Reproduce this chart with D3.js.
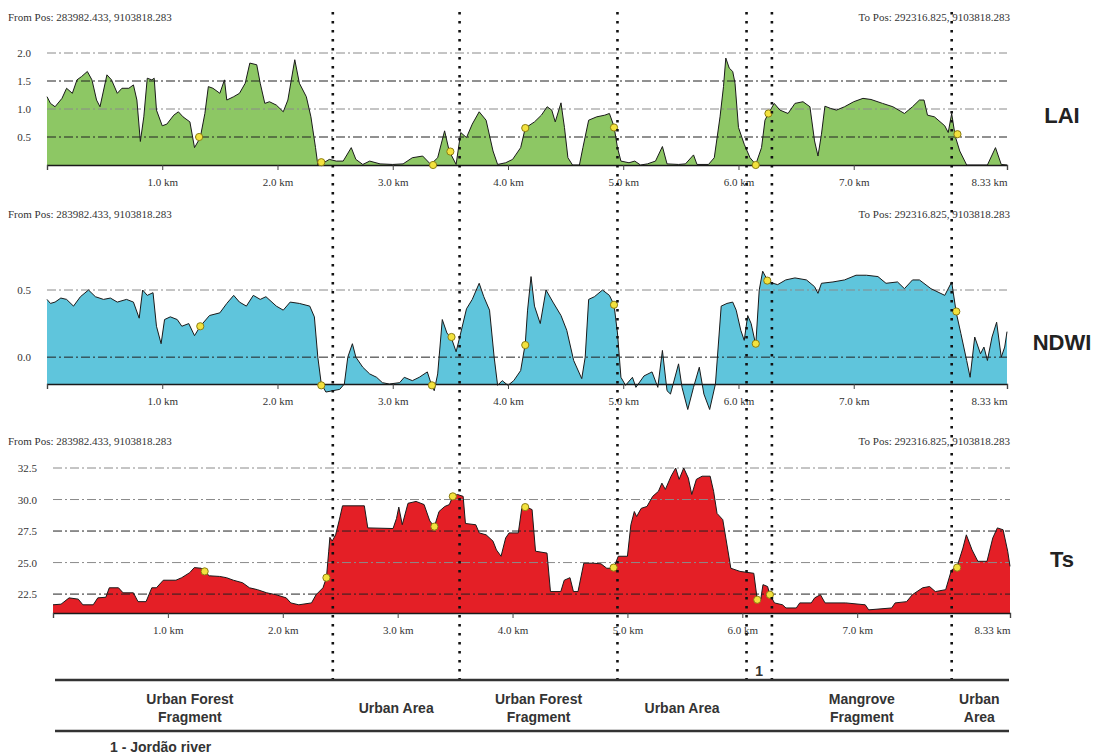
<!DOCTYPE html>
<html>
<head>
<meta charset="utf-8">
<script src="https://cdn.jsdelivr.net/npm/d3@7"></script>
<style>
  body { margin: 0; background: #fff; }
  .pos, .tick text, .ylbl { font-family: "Liberation Serif", "Times New Roman", serif; font-size: 11px; fill: #333; }
  .name { font-family: "Liberation Sans", Arial, sans-serif; font-weight: bold; font-size: 22px; fill: #222; }
  .zone { font-family: "Liberation Sans", Arial, sans-serif; font-weight: bold; font-size: 14px; fill: #333; }
</style>
</head>
<body>
<svg width="1096" height="756"></svg>
<script>
// distance (km), value pairs
const laiProfile = [[0,1.22],[0.03,1.10],[0.07,1.04],[0.13,1.19],[0.17,1.37],[0.22,1.28],[0.26,1.52],[0.30,1.58],[0.35,1.67],[0.39,1.52],[0.43,1.16],[0.46,1.04],[0.52,1.61],[0.56,1.52],[0.61,1.28],[0.65,1.37],[0.71,1.37],[0.75,1.43],[0.78,1.16],[0.81,0.42],[0.84,0.86],[0.87,1.55],[0.91,1.52],[0.93,1.55],[0.95,0.98],[1.0,0.70],[1.04,0.73],[1.10,0.89],[1.14,0.95],[1.18,0.86],[1.24,0.77],[1.28,0.31],[1.33,0.49],[1.37,0.92],[1.40,1.40],[1.44,1.37],[1.50,1.28],[1.54,1.52],[1.56,1.16],[1.62,1.22],[1.67,1.28],[1.72,1.46],[1.76,1.82],[1.82,1.79],[1.85,1.46],[1.89,1.10],[1.93,1.13],[1.99,1.07],[2.05,0.95],[2.09,1.16],[2.15,1.88],[2.19,1.46],[2.25,1.22],[2.29,0.86],[2.33,0.31],[2.35,0],[2.40,0.04],[2.45,0.10],[2.51,0.07],[2.57,0.07],[2.64,0.31],[2.68,0.10],[2.74,0.01],[2.80,0.07],[2.89,0.02],[3.0,0.01],[3.09,0.02],[3.17,0.13],[3.26,0.16],[3.33,0.01],[3.39,0.13],[3.45,0.61],[3.49,0.25],[3.55,0.01],[3.59,0.58],[3.64,0.49],[3.69,0.73],[3.75,0.95],[3.81,0.80],[3.87,0.25],[3.91,0.01],[3.98,0.04],[4.04,0.10],[4.11,0.31],[4.15,0.66],[4.23,0.77],[4.29,0.89],[4.34,1.04],[4.38,0.98],[4.41,0.77],[4.46,1.11],[4.49,0.67],[4.52,0.13],[4.56,0],[4.62,0],[4.65,0.31],[4.70,0.80],[4.77,0.86],[4.84,0.89],[4.88,0.92],[4.92,0.69],[4.95,0.31],[4.98,0.07],[5.05,0.04],[5.10,0.07],[5.15,0],[5.21,0.02],[5.28,0.07],[5.34,0.33],[5.38,0.02],[5.48,0.01],[5.54,0.02],[5.61,0.18],[5.64,0.01],[5.74,0.01],[5.79,0.13],[5.84,0.86],[5.87,1.40],[5.89,1.91],[5.92,1.73],[5.95,1.67],[5.97,1.46],[6.0,0.67],[6.05,0.37],[6.10,0.13],[6.15,0.01],[6.20,0.31],[6.23,0.80],[6.26,0.92],[6.31,1.10],[6.36,0.98],[6.43,0.92],[6.49,1.10],[6.56,1.13],[6.62,1.04],[6.66,0.43],[6.69,0.16],[6.72,0.55],[6.75,1.05],[6.80,1.01],[6.85,0.98],[6.92,1.04],[7.0,1.13],[7.08,1.19],[7.15,1.17],[7.25,1.10],[7.34,1.04],[7.44,0.92],[7.51,1.04],[7.57,1.16],[7.61,1.16],[7.64,0.89],[7.70,0.86],[7.79,0.70],[7.82,0.58],[7.85,0.92],[7.88,0.52],[7.92,0.25],[7.98,0],[8.16,0],[8.23,0.31],[8.28,0.01],[8.33,0]];

const ndwiProfile = [[0,0.43],[0.03,0.40],[0.07,0.41],[0.12,0.44],[0.17,0.43],[0.23,0.38],[0.29,0.45],[0.36,0.50],[0.42,0.45],[0.49,0.43],[0.55,0.44],[0.61,0.41],[0.69,0.43],[0.75,0.41],[0.80,0.29],[0.83,0.50],[0.87,0.46],[0.92,0.48],[0.95,0.23],[0.99,0.10],[1.02,0.28],[1.07,0.30],[1.13,0.28],[1.17,0.23],[1.23,0.25],[1.28,0.16],[1.33,0.23],[1.41,0.31],[1.50,0.33],[1.56,0.40],[1.62,0.46],[1.67,0.41],[1.73,0.38],[1.79,0.46],[1.85,0.43],[1.90,0.45],[1.99,0.38],[2.05,0.35],[2.11,0.41],[2.19,0.40],[2.28,0.38],[2.32,0.30],[2.35,0.0],[2.38,-0.20],[2.42,-0.26],[2.48,-0.25],[2.54,-0.24],[2.58,-0.20],[2.61,0.0],[2.65,0.10],[2.68,0.0],[2.74,-0.075],[2.80,-0.125],[2.86,-0.15],[2.91,-0.19],[2.97,-0.20],[3.06,-0.19],[3.10,-0.15],[3.17,-0.175],[3.23,-0.15],[3.30,-0.11],[3.33,-0.19],[3.36,-0.25],[3.39,-0.125],[3.43,0.28],[3.47,0.18],[3.51,0.14],[3.55,0.04],[3.59,0.18],[3.64,0.36],[3.69,0.43],[3.75,0.55],[3.79,0.45],[3.84,0.35],[3.88,0.0],[3.91,-0.21],[3.95,-0.175],[4.0,-0.21],[4.05,-0.175],[4.11,-0.10],[4.15,0.10],[4.17,0.35],[4.20,0.60],[4.23,0.38],[4.28,0.25],[4.33,0.50],[4.39,0.41],[4.46,0.31],[4.51,0.20],[4.57,-0.025],[4.64,-0.16],[4.67,0],[4.70,0.43],[4.75,0.45],[4.82,0.50],[4.88,0.46],[4.92,0.39],[4.95,0.18],[4.98,-0.15],[5.02,-0.21],[5.08,-0.15],[5.11,-0.225],[5.18,-0.14],[5.25,-0.11],[5.30,-0.225],[5.34,0.05],[5.38,-0.25],[5.41,-0.275],[5.48,-0.05],[5.51,-0.225],[5.56,-0.39],[5.61,-0.225],[5.66,-0.075],[5.70,-0.275],[5.75,-0.39],[5.80,-0.20],[5.85,0.38],[5.90,0.40],[5.95,0.41],[5.98,0.35],[6.02,0.20],[6.05,0.125],[6.08,0.31],[6.11,0.25],[6.15,0.09],[6.18,0.50],[6.21,0.64],[6.25,0.575],[6.30,0.55],[6.34,0.54],[6.41,0.575],[6.49,0.59],[6.59,0.575],[6.66,0.525],[6.69,0.475],[6.72,0.55],[6.82,0.56],[6.92,0.575],[7.02,0.61],[7.11,0.61],[7.21,0.60],[7.28,0.55],[7.38,0.56],[7.44,0.51],[7.51,0.575],[7.57,0.575],[7.67,0.51],[7.79,0.46],[7.85,0.56],[7.89,0.33],[7.93,0.175],[7.98,-0.025],[8.01,-0.15],[8.05,0.15],[8.10,0.025],[8.13,0.075],[8.16,-0.025],[8.20,0.15],[8.24,0.26],[8.28,0],[8.31,0.075],[8.33,0.19]];

const tsProfile = [[0,21.65],[0.07,21.7],[0.14,22.2],[0.22,22.1],[0.26,21.65],[0.35,21.65],[0.39,22.2],[0.46,22.25],[0.49,23.0],[0.57,23.0],[0.61,22.6],[0.70,22.6],[0.74,21.9],[0.81,21.9],[0.86,23.0],[0.90,23.0],[0.96,23.6],[1.07,23.6],[1.12,23.8],[1.19,24.2],[1.23,24.6],[1.29,24.55],[1.32,24.3],[1.36,23.95],[1.45,23.9],[1.51,23.8],[1.57,23.6],[1.65,23.4],[1.71,23.0],[1.78,22.85],[1.86,22.6],[1.94,22.45],[2.03,22.2],[2.07,21.8],[2.14,21.65],[2.25,21.8],[2.29,22.45],[2.35,23.0],[2.38,23.8],[2.40,25.9],[2.41,27.0],[2.43,26.7],[2.46,27.2],[2.49,28.3],[2.52,29.5],[2.71,29.5],[2.74,27.75],[2.96,27.7],[2.99,28.5],[3.01,29.4],[3.04,28.0],[3.09,29.7],[3.16,29.85],[3.23,29.6],[3.28,28.3],[3.32,27.85],[3.36,29.05],[3.41,29.45],[3.45,29.6],[3.48,30.25],[3.52,30.4],[3.57,30.25],[3.59,28.1],[3.68,28.0],[3.71,27.35],[3.77,27.2],[3.83,26.7],[3.86,26.0],[3.90,25.5],[3.94,26.95],[3.97,27.35],[4.05,27.35],[4.08,29.3],[4.11,29.45],[4.17,29.2],[4.20,25.9],[4.30,25.75],[4.33,22.7],[4.42,22.7],[4.45,23.6],[4.50,23.8],[4.53,22.7],[4.57,22.7],[4.62,24.95],[4.70,24.95],[4.77,24.9],[4.82,24.55],[4.88,24.55],[4.92,25.5],[5.0,25.5],[5.03,28.0],[5.06,29.05],[5.08,28.65],[5.12,29.3],[5.17,29.45],[5.22,30.25],[5.27,30.65],[5.30,31.3],[5.33,30.8],[5.38,31.85],[5.42,32.5],[5.45,31.6],[5.49,32.5],[5.53,31.7],[5.56,30.4],[5.60,31.6],[5.65,31.85],[5.72,31.85],[5.75,30.65],[5.78,28.9],[5.83,28.4],[5.90,24.55],[5.98,24.3],[6.10,24.15],[6.13,22.05],[6.16,22.05],[6.18,23.25],[6.22,23.1],[6.24,22.45],[6.28,21.8],[6.35,21.65],[6.38,21.4],[6.47,21.4],[6.50,21.8],[6.60,21.8],[6.63,22.2],[6.68,22.45],[6.72,21.8],[6.90,21.8],[7.07,21.65],[7.10,21.25],[7.30,21.4],[7.33,21.8],[7.43,21.9],[7.48,22.45],[7.57,23.0],[7.63,23.1],[7.68,22.7],[7.77,22.85],[7.82,24.4],[7.87,24.7],[7.92,26.15],[7.95,27.2],[8.00,26.0],[8.05,25.1],[8.13,25.1],[8.18,26.95],[8.22,27.75],[8.27,27.6],[8.31,25.9],[8.33,24.7]];

// yellow sample points on each profile
const laiMarks = [[1.32,0.50],[2.38,0.05],[3.35,0.0],[3.50,0.24],[4.15,0.66],[4.92,0.67],[6.15,0.0],[6.26,0.92],[7.90,0.55]];
const ndwiMarks = [[1.33,0.23],[2.38,-0.21],[3.34,-0.21],[3.51,0.15],[4.15,0.09],[4.92,0.39],[6.15,0.10],[6.25,0.57],[7.89,0.34]];
const tsMarks = [[1.32,24.3],[2.38,23.8],[3.32,27.85],[3.48,30.25],[4.11,29.4],[4.88,24.6],[6.13,22.05],[6.24,22.45],[7.87,24.6]];

const laiTicks = [0.5, 1.0, 1.5, 2.0];
const ndwiTicks = [0.0, 0.5];
const tsTicks = [22.5, 25.0, 27.5, 30.0, 32.5];
const kmTicks = [0, 1, 2, 3, 4, 5, 6, 7, 8.33];

const fromPos = "From Pos: 283982.433, 9103818.283";
const toPos = "To Pos: 292316.825, 9103818.283";

const zoneBounds = [2.48, 3.58, 4.95, 6.07, 6.29, 7.85];
const zoneSpans = [[0, 2.48], [2.48, 3.58], [3.58, 4.95], [4.95, 6.07], [6.29, 7.85], [7.85, 8.33]];
const zoneNames = [["Urban Forest", "Fragment"], ["Urban Area"], ["Urban Forest", "Fragment"], ["Urban Area"], ["Mangrove", "Fragment"], ["Urban", "Area"]];

const svg = d3.select("svg");

const panels = [
  {name: "LAI", data: laiProfile, marks: laiMarks, ticks: laiTicks, dark: [1.5, 0.5],
   x0: 47, x1: 1007, dom: [0, 2], rng: [165, 53], fill: "#8dc764", head: 21, nameY: 123},
  {name: "NDWI", data: ndwiProfile, marks: ndwiMarks, ticks: ndwiTicks, dark: [0.0],
   x0: 47, x1: 1007, dom: [-0.2, 0.5], rng: [384, 290], fill: "#5fc5dc", head: 218, nameY: 350},
  {name: "Ts", data: tsProfile, marks: tsMarks, ticks: tsTicks, dark: [22.5, 27.5],
   x0: 53, x1: 1010, dom: [21, 32.5], rng: [613, 468], fill: "#e41f26", head: 445, nameY: 567}
];

const xTop = d3.scaleLinear().domain([0, 8.33]).range([47, 1007]);

panels.forEach(p => {
  const x = d3.scaleLinear().domain([0, 8.33]).range([p.x0, p.x1]);
  const y = d3.scaleLinear().domain(p.dom).range(p.rng);
  const g = svg.append("g");

  g.append("text").attr("class", "pos").attr("x", 8).attr("y", p.head).text(fromPos);
  g.append("text").attr("class", "pos").attr("x", 1010).attr("y", p.head)
    .attr("text-anchor", "end").text(toPos);

  const area = d3.area()
    .x(d => x(d[0]))
    .y0(y(p.dom[0]))
    .y1(d => y(d[1]));

  g.append("path")
    .datum(p.data)
    .attr("d", area)
    .attr("fill", p.fill);

  // dash-dot grid lines, drawn over the fill
  g.selectAll(".grid")
    .data(p.ticks)
    .enter().append("line")
      .attr("x1", p.x0).attr("x2", p.x1)
      .attr("y1", d => y(d)).attr("y2", d => y(d))
      .attr("stroke", d => p.dark.includes(d) ? "#222" : "#8a8a8a")
      .attr("stroke-width", 1)
      .attr("stroke-dasharray", "9,3,2,3");

  g.selectAll(".ylbl")
    .data(p.ticks)
    .enter().append("text")
      .attr("class", "ylbl")
      .attr("x", p.x0 - 16)
      .attr("y", d => y(d) + 4)
      .attr("text-anchor", "end")
      .text(d => d3.format(".1f")(d));

  g.append("path")
    .datum(p.data)
    .attr("d", d3.line().x(d => x(d[0])).y(d => y(d[1])))
    .attr("fill", "none")
    .attr("stroke", "#1a1a1a")
    .attr("stroke-width", 1);

  const ax = g.append("g")
    .attr("transform", `translate(0,${y(p.dom[0])})`)
    .call(d3.axisBottom(x)
      .tickValues(kmTicks)
      .tickSize(5)
      .tickSizeOuter(5)
      .tickPadding(8)
      .tickFormat(d => d === 0 ? "" : d === 8.33 ? "8.33 km" : d3.format(".1f")(d) + " km"));
  ax.select(".domain").attr("stroke", "#1a1a1a").attr("stroke-width", 1.3);
  ax.selectAll(".tick line").attr("stroke", "#444");
  ax.selectAll(".tick text").attr("font-family", null).attr("font-size", null)
    .attr("text-anchor", d => d === 8.33 ? "end" : "middle");

  g.selectAll(".mark")
    .data(p.marks)
    .enter().append("circle")
      .attr("cx", d => x(d[0]))
      .attr("cy", d => y(d[1]))
      .attr("r", 3.6)
      .attr("fill", "#f3e23e")
      .attr("stroke", "#8c7d12")
      .attr("stroke-width", 1);

  g.append("text").attr("class", "name")
    .attr("x", 1062).attr("y", p.nameY)
    .attr("text-anchor", "middle")
    .text(p.name);
});

// dotted boundaries across all three profiles
svg.selectAll(".bound")
  .data(zoneBounds)
  .enter().append("line")
    .attr("x1", d => xTop(d)).attr("x2", d => xTop(d))
    .attr("y1", 12).attr("y2", 680)
    .attr("stroke", "#111")
    .attr("stroke-width", 2.6)
    .attr("stroke-dasharray", "2.6,6.4");

// zone table underneath
[680, 731].forEach(yy => {
  svg.append("line")
    .attr("x1", 55).attr("x2", 1009)
    .attr("y1", yy).attr("y2", yy)
    .attr("stroke", "#333").attr("stroke-width", 2.5);
});

const zones = svg.selectAll(".zone")
  .data(zoneSpans)
  .enter().append("text")
    .attr("class", "zone")
    .attr("text-anchor", "middle")
    .attr("x", d => (xTop(d[0]) + xTop(d[1])) / 2)
    .attr("y", (d, i) => zoneNames[i].length > 1 ? 704 : 713);

zones.selectAll("tspan")
  .data((d, i) => zoneNames[i].map(t => ({t, x: (xTop(d[0]) + xTop(d[1])) / 2})))
  .enter().append("tspan")
    .attr("x", d => d.x)
    .attr("dy", (d, i) => i === 0 ? 0 : 18)
    .text(d => d.t);

svg.append("text").attr("class", "zone")
  .attr("x", (xTop(6.07) + xTop(6.29)) / 2).attr("y", 676)
  .attr("text-anchor", "middle")
  .text("1");

svg.append("text").attr("class", "zone")
  .attr("x", 110).attr("y", 752)
  .text("1 - Jordão river");
</script>
</body>
</html>
